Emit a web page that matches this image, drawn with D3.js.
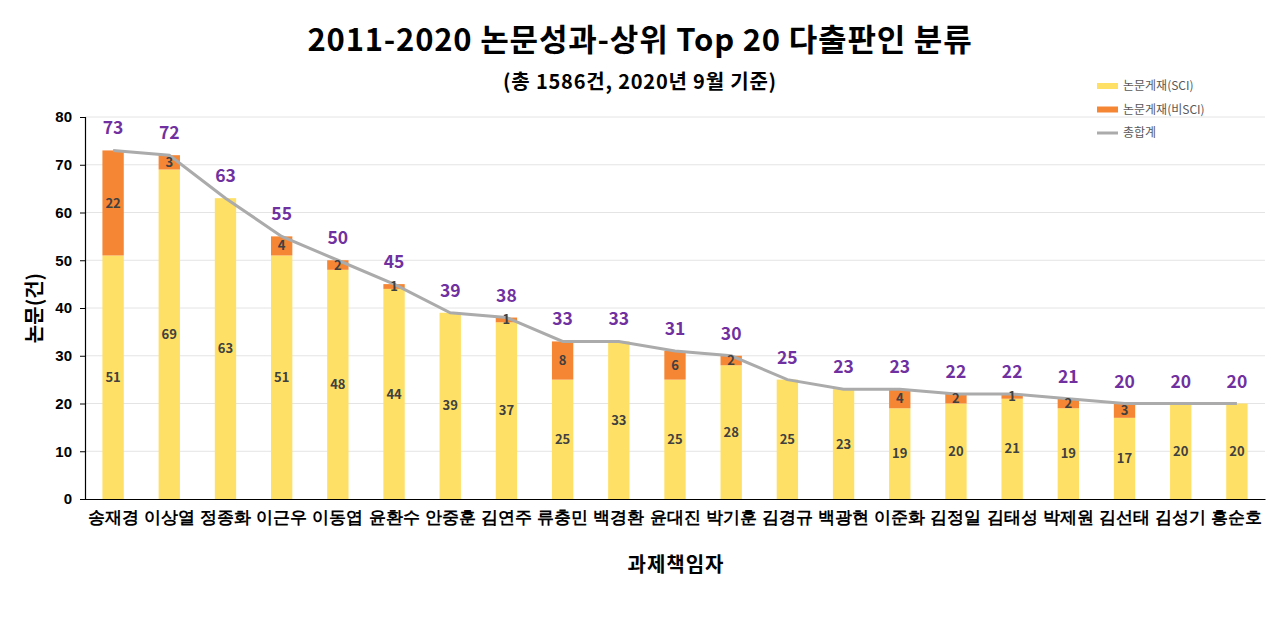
<!DOCTYPE html>
<html><head><meta charset="utf-8">
<script src="https://cdn.jsdelivr.net/npm/d3@7"></script>
<style>body{margin:0;background:#fff}svg{font-family:"Noto Sans CJK KR","Noto Sans",sans-serif}</style>
</head><body><svg id="c" width="1280" height="624"></svg>
<script>
const categories = ["송재경","이상열","정종화","이근우","이동엽","윤환수","안중훈","김연주","류충민","백경환","윤대진","박기훈","김경규","백광현","이준화","김정일","김태성","박제원","김선태","김성기","홍순호"];
const sciValues = [51,69,63,51,48,44,39,37,25,33,25,28,25,23,19,20,21,19,17,20,20];
const nonSciValues = [22,3,0,4,2,1,0,1,8,0,6,2,0,0,4,2,1,2,3,0,0];
const totals = [73,72,63,55,50,45,39,38,33,33,31,30,25,23,23,22,22,21,20,20,20];
const yTicks = [0,10,20,30,40,50,60,70,80];
const seriesNames = ["논문게재(SCI)","논문게재(비SCI)","총합계"];

const svg = d3.select("#c");
const m = {l:85, r:1265, t:117, b:499};
const x = d3.scaleBand().domain(categories).range([m.l, m.r]).paddingInner(0.62).paddingOuter(0.31);
const y = d3.scaleLinear().domain([0,80]).range([m.b, m.t]);
const cYel = "#FFE066", cOra = "#F58634", cLine = "#ABABAB", cPur = "#7030A0";

// grid
svg.append("g").selectAll("line").data(yTicks.filter(d=>d>0)).join("line")
  .attr("x1", m.l).attr("x2", m.r).attr("y1", d=>y(d)).attr("y2", d=>y(d))
  .attr("stroke", "#e4e4e4").attr("stroke-width", 1);

// y axis
const ya = svg.append("g").attr("transform", `translate(${m.l},0)`)
  .call(d3.axisLeft(y).tickValues(yTicks).tickSize(5).tickPadding(8));
ya.select(".domain").attr("stroke", "#000").attr("stroke-width", 1.2);
ya.selectAll(".tick line").attr("stroke", "#000");
ya.selectAll("text").attr("font-size", 15).attr("font-weight", "bold").attr("fill", "#000");

// bars
const data = categories.map((c,i)=>({c, s:sciValues[i], n:nonSciValues[i], t:totals[i]}));
svg.append("g").selectAll("rect").data(data).join("rect")
  .attr("x", d=>x(d.c)).attr("width", x.bandwidth())
  .attr("y", d=>y(d.s)).attr("height", d=>y(0)-y(d.s)).attr("fill", cYel);
svg.append("g").selectAll("rect").data(data.filter(d=>d.n>0)).join("rect")
  .attr("x", d=>x(d.c)).attr("width", x.bandwidth())
  .attr("y", d=>y(d.s+d.n)).attr("height", d=>y(d.s)-y(d.s+d.n)).attr("fill", cOra);

// x axis
const xa = svg.append("g").attr("transform", `translate(0,${m.b})`)
  .call(d3.axisBottom(x).tickSize(0).tickPadding(12));
xa.select(".domain").attr("stroke", "#000").attr("stroke-width", 1.2);
xa.selectAll("text").attr("font-size", 16.5).attr("font-weight", "bold").attr("fill", "#000");

// line
svg.append("path").datum(data)
  .attr("d", d3.line().x(d=>x(d.c)+x.bandwidth()/2).y(d=>y(d.t)))
  .attr("fill", "none").attr("stroke", cLine).attr("stroke-width", 3);

// inner labels
svg.append("g").selectAll("text").data(data).join("text")
  .attr("x", d=>x(d.c)+x.bandwidth()/2).attr("y", d=>y(d.s/2)).attr("dy", "0.35em")
  .attr("text-anchor", "middle").attr("font-size", 13).attr("font-weight", "bold").attr("fill", "#404040")
  .text(d=>d.s);
svg.append("g").selectAll("text").data(data.filter(d=>d.n>0)).join("text")
  .attr("x", d=>x(d.c)+x.bandwidth()/2).attr("y", d=>y(d.s+d.n/2)).attr("dy", "0.35em")
  .attr("text-anchor", "middle").attr("font-size", 13).attr("font-weight", "bold").attr("fill", "#404040")
  .text(d=>d.n);
// total labels
svg.append("g").selectAll("text").data(data).join("text")
  .attr("x", d=>x(d.c)+x.bandwidth()/2).attr("y", d=>y(d.t)-16)
  .attr("text-anchor", "middle").attr("font-size", 17.5).attr("font-weight", "bold").attr("fill", cPur)
  .text(d=>d.t);

// titles
svg.append("text").attr("x", 640).attr("y", 51).attr("text-anchor", "middle")
  .attr("font-size", 31).attr("font-weight", "bold").attr("fill", "#000").attr("letter-spacing", 0.8)
  .text("2011-2020 논문성과-상위 Top 20 다출판인 분류");
svg.append("text").attr("x", 640).attr("y", 89).attr("text-anchor", "middle")
  .attr("font-size", 20).attr("font-weight", "bold").attr("fill", "#000").attr("letter-spacing", 0.8)
  .text("(총 1586건, 2020년 9월 기준)");
svg.append("text").attr("transform", "translate(42,308) rotate(-90)").attr("text-anchor", "middle")
  .attr("font-size", 20).attr("font-weight", "bold").attr("fill", "#000").text("논문(건)");
svg.append("text").attr("x", 676).attr("y", 572).attr("text-anchor", "middle")
  .attr("font-size", 20).attr("font-weight", "bold").attr("fill", "#000").attr("letter-spacing", 1).text("과제책임자");

// legend
const lg = svg.append("g").attr("transform", "translate(1097,86)");
const lcol = [cYel, cOra, cLine];
seriesNames.forEach((nm,i)=>{
  const g = lg.append("g").attr("transform", `translate(0,${i*23.5})`);
  g.append("line").attr("x1",0).attr("x2",21).attr("y1",0).attr("y2",0)
    .attr("stroke", lcol[i]).attr("stroke-width", i<2?6:3);
  g.append("text").attr("x", 26).attr("y", 0).attr("dy","0.35em").attr("font-size", 12)
    .attr("fill", "#595959").text(nm);
});
</script></body></html>
